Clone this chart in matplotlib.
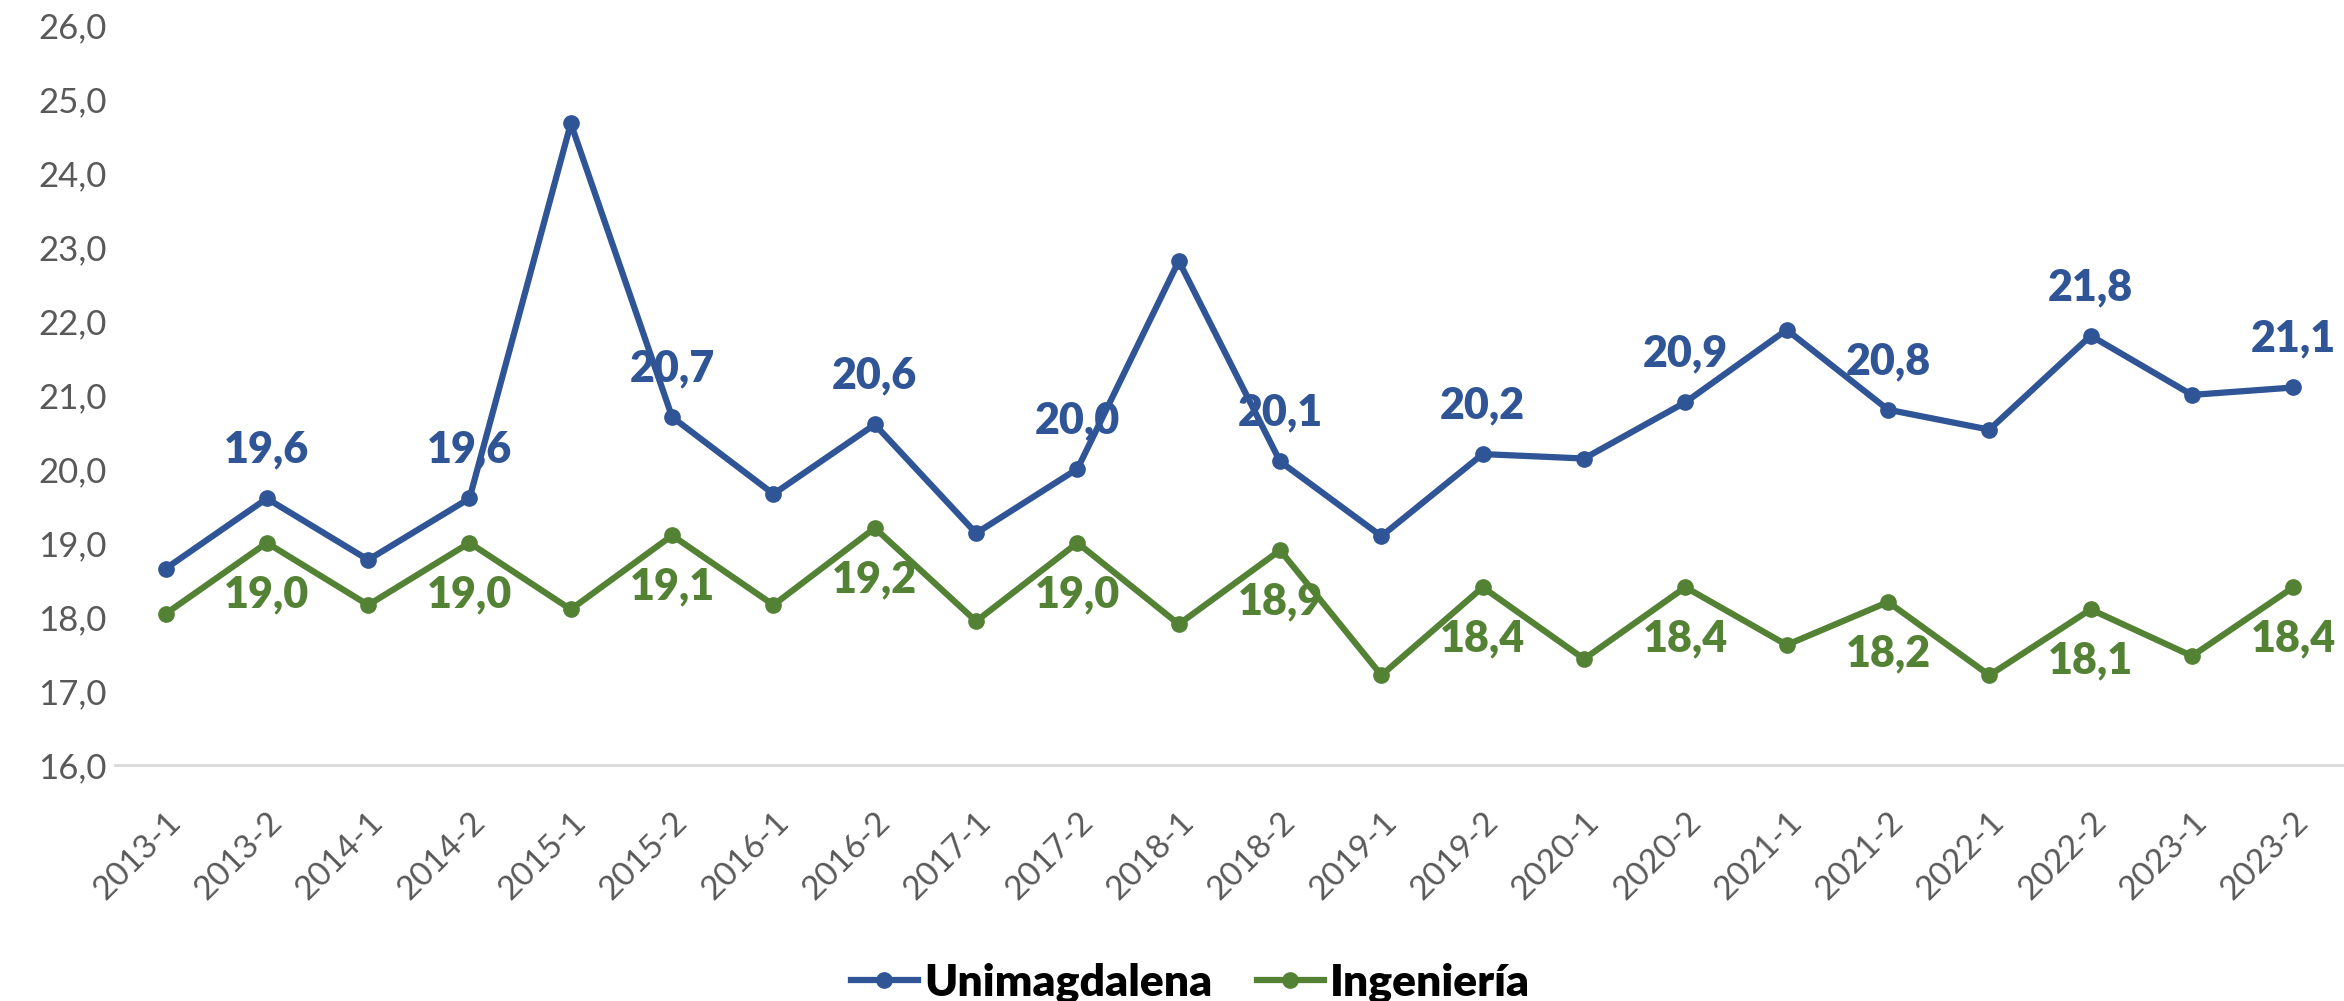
import matplotlib
matplotlib.use("Agg")
import matplotlib.pyplot as plt
import numpy as np

plt.rcParams['font.family'] = ['Lato', 'DejaVu Sans']

periodos = ['2013-1', '2013-2', '2014-1', '2014-2', '2015-1', '2015-2', '2016-1', '2016-2',
            '2017-1', '2017-2', '2018-1', '2018-2', '2019-1', '2019-2', '2020-1', '2020-2',
            '2021-1', '2021-2', '2022-1', '2022-2', '2023-1', '2023-2']
unimagdalena = [18.65, 19.6, 18.77, 19.6, 24.67, 20.7, 19.66, 20.6, 19.13, 20.0, 22.81,
                20.1, 19.09, 20.2, 20.14, 20.9, 21.88, 20.8, 20.53, 21.8, 21.0, 21.1]
ingenieria = [18.04, 19.0, 18.16, 19.0, 18.1, 19.1, 18.16, 19.2, 17.94, 19.0, 17.9,
              18.9, 17.21, 18.4, 17.43, 18.4, 17.62, 18.2, 17.21, 18.1, 17.47, 18.4]

azul = '#2F5597'
verde = '#548235'
gris = '#595959'

fig = plt.figure(figsize=(23.44, 10.01), dpi=100)
ax = fig.add_axes([0.049, 0.236, 0.951, 0.739])

x = np.arange(len(periodos))
ax.plot(x, unimagdalena, color=azul, lw=4.5, marker='o', ms=11, label='Unimagdalena')
ax.plot(x, ingenieria, color=verde, lw=4.5, marker='o', ms=11, label='Ingeniería')

# etiquetas solo en los semestres -2
for i in range(1, len(periodos), 2):
    ax.annotate(f"{unimagdalena[i]:.1f}".replace('.', ','), (x[i], unimagdalena[i]),
                xytext=(0, 35), textcoords='offset points', ha='center', va='center',
                fontsize=31, fontweight='heavy', color=azul)
    ax.annotate(f"{ingenieria[i]:.1f}".replace('.', ','), (x[i], ingenieria[i]),
                xytext=(0, -37), textcoords='offset points', ha='center', va='center',
                fontsize=31, fontweight='heavy', color=verde)

ax.set_xlim(-0.5, len(periodos) - 0.5)
ax.set_ylim(16, 26)
ax.set_yticks(np.arange(16, 27, 1))
ax.set_yticklabels([f"{v:.1f}".replace('.', ',') for v in np.arange(16, 27, 1)],
                   fontsize=25, color=gris)
ax.set_xticks(x)
ax.set_xticklabels(periodos, rotation=45, ha='right', rotation_mode='anchor',
                   fontsize=24, color=gris)
ax.tick_params(axis='both', length=0)
ax.tick_params(axis='x', pad=30)
ax.tick_params(axis='y', pad=6)
for s in ['top', 'right', 'left']:
    ax.spines[s].set_visible(False)
ax.spines['bottom'].set_color('#D9D9D9')
ax.spines['bottom'].set_linewidth(2)
ax.patch.set_alpha(0)

leg = fig.legend(loc='center', bbox_to_anchor=(0.508, 0.018), ncol=2, frameon=False,
                 handlelength=1.5, columnspacing=1.0, handletextpad=0.15,
                 prop={'size': 32, 'weight': 'heavy'})

fig.savefig('out.png', dpi=100, facecolor='white')
